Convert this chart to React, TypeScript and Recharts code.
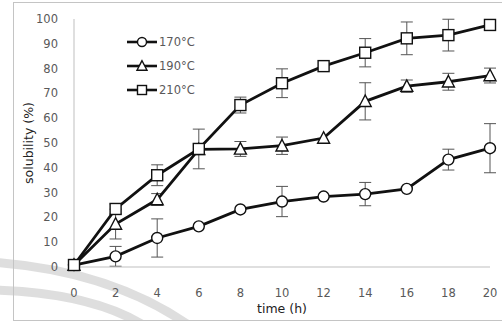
import React from 'react';
import { LineChart, Line, XAxis, YAxis, ErrorBar, Legend } from 'recharts';

// Sampling times (h)
const hours = [0, 2, 4, 6, 8, 10, 12, 14, 16, 18, 20];

// Mean solubility (%) at each temperature
const sol170 = [0.8, 4.3, 11.7, 16.4, 23.2, 26.4, 28.4, 29.4, 31.5, 43.3, 47.9];
const sol190 = [0.8, 17.3, 27.2, 47.4, 47.6, 48.9, 52.0, 66.8, 72.9, 74.7, 77.2];
const sol210 = [0.8, 23.4, 37.0, 47.6, 65.3, 74.1, 81.0, 86.4, 92.2, 93.5, 97.6];

// Standard deviations
const err170 = [0, 4.0, 7.7, 0, 0, 6.1, 0, 4.7, 0, 4.2, 9.9];
const err190 = [0, 6.0, 2.4, 0, 3.0, 3.5, 0, 7.5, 2.5, 3.4, 3.0];
const err210 = [0, 2.0, 4.2, 8.0, 3.2, 5.8, 0, 5.7, 6.6, 6.4, 0];

const yTicks = [0, 10, 20, 30, 40, 50, 60, 70, 80, 90, 100];

const seriesNames = ['170°C', '190°C', '210°C'];

const rows = hours.map((h, i) => ({
  h,
  s170: sol170[i],
  s190: sol190[i],
  s210: sol210[i],
  e170: err170[i],
  e190: err190[i],
  e210: err210[i],
}));

type Shape = 'circle' | 'triangle' | 'square';

const shapeFor: Record<string, Shape> = {
  s170: 'circle',
  s190: 'triangle',
  s210: 'square',
};

const FONT = '"DejaVu Sans", "Liberation Sans", sans-serif';
const INK = '#111';

function Marker({ shape, cx, cy, size }: { shape: Shape; cx: number; cy: number; size: number }) {
  const h = size / 2;
  if (shape === 'circle') {
    return <circle cx={cx} cy={cy} r={h} fill="#fff" stroke={INK} strokeWidth={1.4} />;
  }
  if (shape === 'square') {
    return <rect x={cx - h} y={cy - h} width={size} height={size} fill="#fff" stroke={INK} strokeWidth={1.4} />;
  }
  const pts = `${cx},${cy - h - 0.8} ${cx - h - 0.5},${cy + h - 0.3} ${cx + h + 0.5},${cy + h - 0.3}`;
  return <polygon points={pts} fill="#fff" stroke={INK} strokeWidth={1.4} strokeLinejoin="miter" />;
}

const makeDot = (shape: Shape) => (props: any) => {
  const { cx, cy, index } = props;
  if (cx == null || cy == null) return <g key={`${shape}-${index}`} />;
  return (
    <g key={`${shape}-${index}`}>
      <Marker shape={shape} cx={cx} cy={cy} size={11} />
    </g>
  );
};

const renderLegend = (props: any) => {
  const { payload } = props;
  return (
    <div style={{ fontFamily: FONT, fontSize: 11.5, color: '#595959' }}>
      {(payload || []).map((entry: any) => {
        const shape = shapeFor[entry.dataKey as string] || 'circle';
        return (
          <div key={entry.dataKey} style={{ display: 'flex', alignItems: 'center', height: 24 }}>
            <svg width={31} height={14} style={{ display: 'block' }}>
              <line x1={0} y1={7} x2={30} y2={7} stroke={INK} strokeWidth={2.6} />
              <Marker shape={shape} cx={15} cy={7} size={9} />
            </svg>
            <span style={{ marginLeft: 1, lineHeight: '14px' }}>{entry.value}</span>
          </div>
        );
      })}
    </div>
  );
};

const YTitle = (props: any) => {
  const vb = props.viewBox || { x: 0, y: 0, width: 0, height: 0 };
  const x = vb.x + 28;
  const y = vb.y + vb.height / 2;
  return (
    <text
      x={x}
      y={y}
      transform={`rotate(-90, ${x}, ${y})`}
      textAnchor="middle"
      dominantBaseline="central"
      fontFamily={FONT}
      fontSize={12.5}
      fill="#222"
    >
      solubility (%)
    </text>
  );
};

const XTitle = (props: any) => {
  const vb = props.viewBox || { x: 0, y: 0, width: 0, height: 0 };
  return (
    <text
      x={vb.x + vb.width / 2}
      y={vb.y + 46}
      textAnchor="middle"
      fontFamily={FONT}
      fontSize={12.5}
      fill="#222"
    >
      time (h)
    </text>
  );
};

export default function App() {
  const tickStyle = { fontFamily: FONT, fontSize: 11.5, fill: '#595959' };
  return (
    <div style={{ position: 'absolute', left: 0, top: 0, width: 502, height: 321, background: '#fff', overflow: 'hidden' }}>
      {/* faint swooshes behind the plot */}
      <svg width={502} height={321} style={{ position: 'absolute', left: 0, top: 0 }}>
        <path d="M -10 262 Q 110 270 190 326" fill="none" stroke="#d6d6d6" strokeWidth={9} opacity={0.8} />
        <path d="M -10 290 Q 90 292 145 326" fill="none" stroke="#d6d6d6" strokeWidth={9} opacity={0.8} />
      </svg>
      {/* outer frame */}
      <div
        style={{
          position: 'absolute',
          left: 13,
          top: 2,
          width: 500,
          height: 317,
          borderLeft: '1px solid #c4c4c4',
          borderTop: '1px solid #c4c4c4',
          borderBottom: '1px solid #c4c4c4',
        }}
      />
      <div style={{ position: 'absolute', left: 0, top: 0 }}>
        <LineChart width={502} height={321} data={rows} margin={{ top: 19, right: 12, bottom: 0, left: 0 }}>
          <XAxis
            dataKey="h"
            type="number"
            domain={[0, 20]}
            ticks={hours}
            height={54}
            stroke="#bfbfbf"
            tickLine={false}
            tickSize={8}
            tickMargin={14}
            tick={tickStyle}
            label={<XTitle />}
          />
          <YAxis
            type="number"
            domain={[0, 100]}
            ticks={yTicks}
            width={74}
            stroke="#bfbfbf"
            tickLine={false}
            tickSize={8}
            tickMargin={8}
            tick={tickStyle}
            interval={0}
            label={<YTitle />}
          />
          <Legend
            content={renderLegend}
            layout="vertical"
            align="center"
            verticalAlign="middle"
            wrapperStyle={{ position: 'absolute', left: 127, top: 30, width: 90 }}
          />
          <Line
            dataKey="s170"
            name={seriesNames[0]}
            type="linear"
            stroke={INK}
            strokeWidth={2.8}
            dot={makeDot('circle')}
            activeDot={false}
            isAnimationActive={false}
          >
            <ErrorBar dataKey="e170" direction="y" width={6} stroke="#555" strokeWidth={1} />
          </Line>
          <Line
            dataKey="s190"
            name={seriesNames[1]}
            type="linear"
            stroke={INK}
            strokeWidth={2.8}
            dot={makeDot('triangle')}
            activeDot={false}
            isAnimationActive={false}
          >
            <ErrorBar dataKey="e190" direction="y" width={6} stroke="#555" strokeWidth={1} />
          </Line>
          <Line
            dataKey="s210"
            name={seriesNames[2]}
            type="linear"
            stroke={INK}
            strokeWidth={2.8}
            dot={makeDot('square')}
            activeDot={false}
            isAnimationActive={false}
          >
            <ErrorBar dataKey="e210" direction="y" width={6} stroke="#555" strokeWidth={1} />
          </Line>
        </LineChart>
      </div>
    </div>
  );
}
